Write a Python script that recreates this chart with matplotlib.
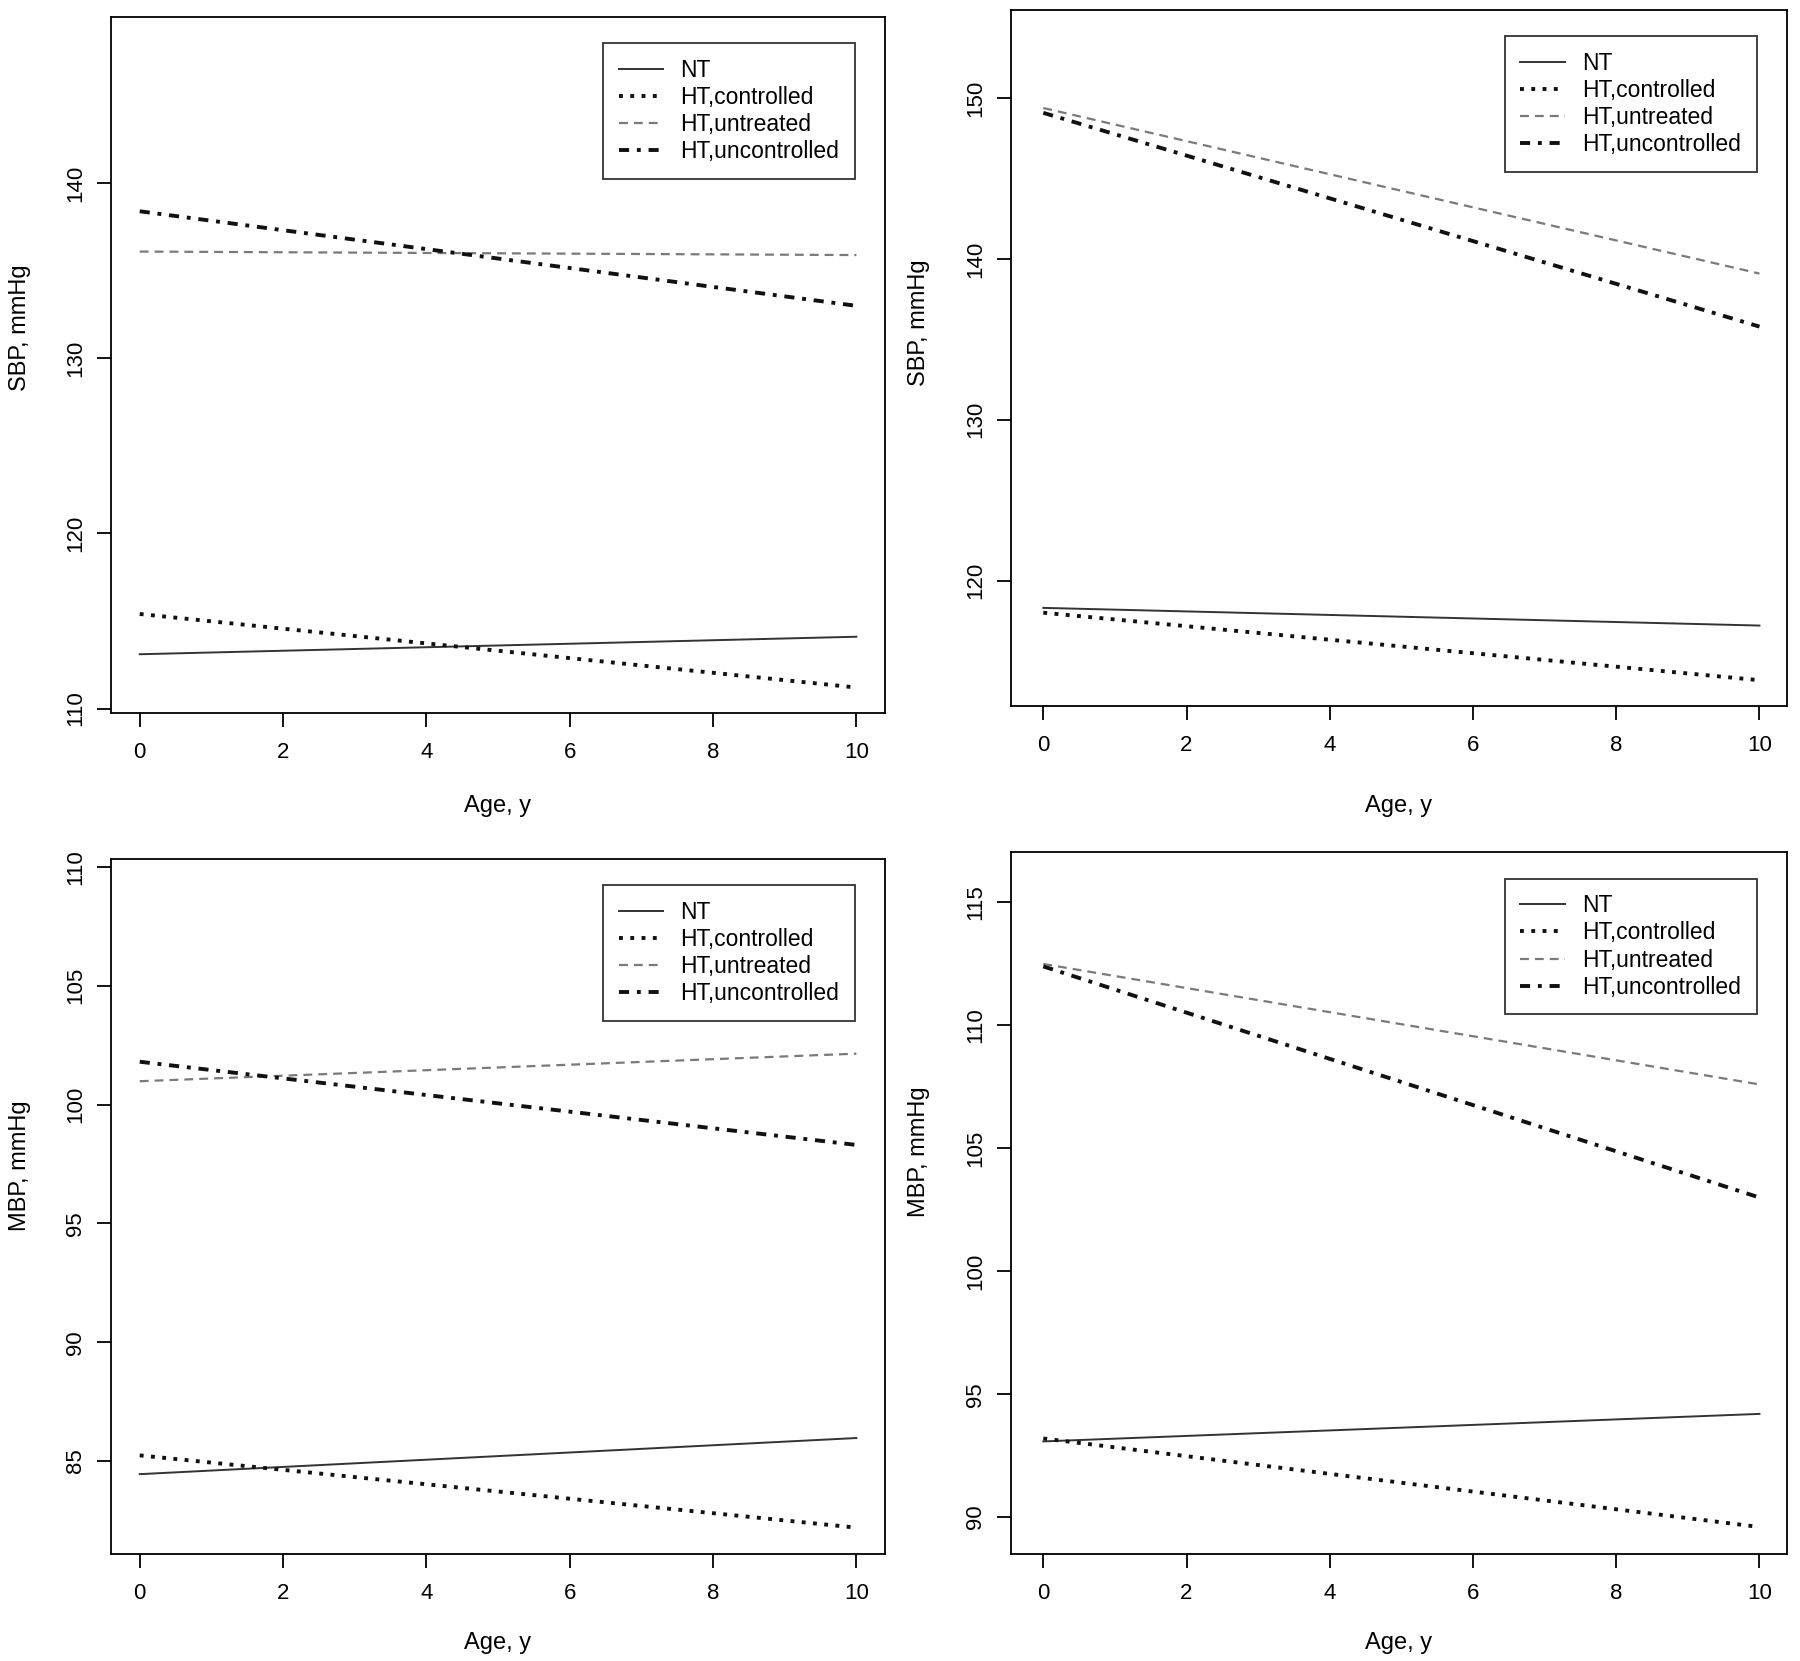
import matplotlib
matplotlib.use("Agg")
import matplotlib.pyplot as plt

plt.rcParams['font.family'] = ['Liberation Sans', 'DejaVu Sans']

ages = [0, 10]
series_names = ["NT", "HT,controlled", "HT,untreated", "HT,uncontrolled"]

# panel values: start (age 0) and end (age 10)
tl_nt = [113.1, 114.1]
tl_ctrl = [115.4, 111.2]
tl_untr = [136.1, 135.9]
tl_unc = [138.4, 133.0]

tr_nt = [118.3, 117.2]
tr_ctrl = [118.0, 113.8]
tr_untr = [149.4, 139.1]
tr_unc = [149.1, 135.8]

bl_nt = [84.45, 85.97]
bl_ctrl = [85.24, 82.2]
bl_untr = [100.98, 102.14]
bl_unc = [101.8, 98.3]

br_nt = [93.08, 94.2]
br_ctrl = [93.2, 89.6]
br_untr = [112.5, 107.6]
br_unc = [112.4, 103.0]

x_ticks = [0, 2, 4, 6, 8, 10]
tl_yticks = [110, 120, 130, 140]
tr_yticks = [120, 130, 140, 150]
bl_yticks = [85, 90, 95, 100, 105, 110]
br_yticks = [90, 95, 100, 105, 110, 115]

styles = [
    dict(color='#333333', lw=1.4, linestyle='-'),
    dict(color='#111111', lw=2.8, linestyle=(0, (1.0, 1.9))),
    dict(color='#7a7a7a', lw=1.6, linestyle=(0, (4.0, 2.7))),
    dict(color='#111111', lw=2.8, linestyle=(0, (2.6, 2.0, 1.0, 2.0))),
]

fig = plt.figure(figsize=(18, 16.61), dpi=100)

panels = [
    # rect, data, yticks, ylim, xlim, ylabel, ylabel_y, xlabel_y
    ([0.0617, 0.5707, 0.4300, 0.4191], [tl_nt, tl_ctrl, tl_untr, tl_unc], tl_yticks,
     (109.74, 149.5), (-0.4, 10.4), "SBP, mmHg", 0.553, -0.134),
    ([0.5617, 0.5750, 0.4311, 0.4190], [tr_nt, tr_ctrl, tr_untr, tr_unc], tr_yticks,
     (112.2, 155.5), (-0.45, 10.385), "SBP, mmHg", 0.550, -0.144),
    ([0.0617, 0.0644, 0.4300, 0.4186], [bl_nt, bl_ctrl, bl_untr, bl_unc], bl_yticks,
     (81.09, 110.34), (-0.4, 10.4), "MBP, mmHg", 0.558, -0.128),
    ([0.5617, 0.0644, 0.4311, 0.4226], [br_nt, br_ctrl, br_untr, br_unc], br_yticks,
     (88.5, 117.05), (-0.45, 10.385), "MBP, mmHg", 0.573, -0.127),
]

for rect, data, yt, ylim, xlim, ylab, yly, xly in panels:
    ax = fig.add_axes(rect)
    for name, vals, st in zip(series_names, data, styles):
        ln, = ax.plot(ages, vals, label=name, **st)
        ln.set_dash_capstyle('butt')
    ax.set_xlim(*xlim)
    ax.set_ylim(*ylim)
    ax.set_xticks(x_ticks)
    ax.set_yticks(yt)
    ax.tick_params(axis='both', direction='out', length=10, width=1.3, labelsize=16)
    ax.tick_params(axis='x', pad=11)
    ax.tick_params(axis='y', pad=8)
    for lab in ax.get_yticklabels():
        lab.set_rotation(90)
        lab.set_va('center')
    for sp in ax.spines.values():
        sp.set_linewidth(1.3)
    ax.set_xlabel("Age, y", fontsize=17)
    ax.set_ylabel(ylab, fontsize=17)
    ax.xaxis.set_label_coords(0.5, xly)
    ax.xaxis.label.set_va('center')
    ax.yaxis.set_label_coords(-0.118, yly)
    ax.yaxis.label.set_va('center')
    leg = ax.legend(loc='upper right', bbox_to_anchor=(0.961, 0.962), borderaxespad=0,
                    fontsize=16.5, frameon=True, fancybox=False, edgecolor='black',
                    handlelength=1.95, handletextpad=0.75, labelspacing=0.18,
                    borderpad=0.68)
    leg.get_frame().set_linewidth(1.3)

fig.savefig("out.png", dpi=100)
